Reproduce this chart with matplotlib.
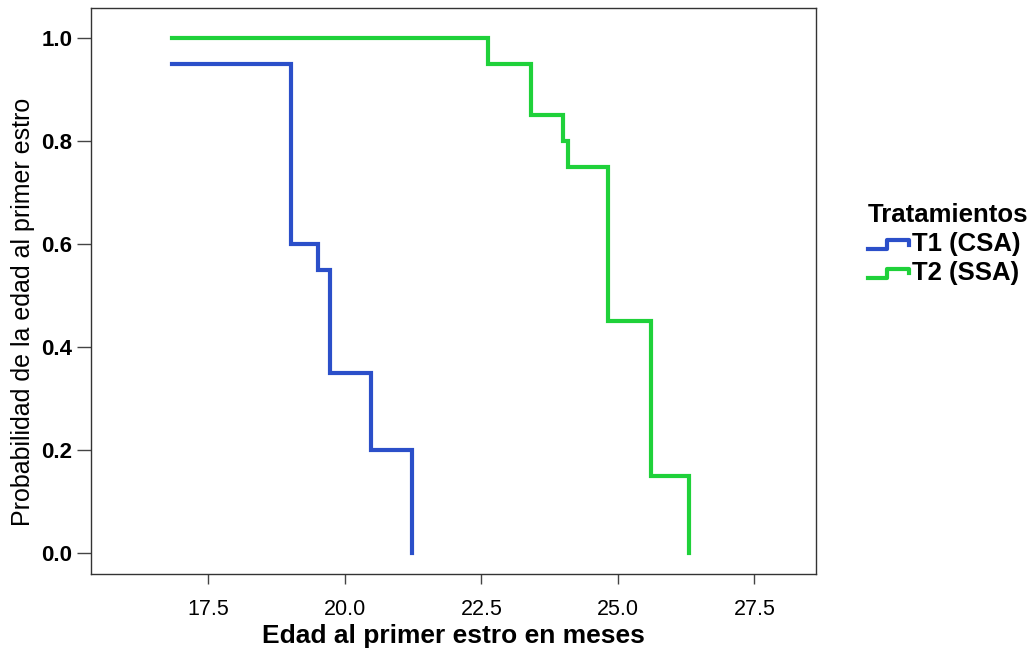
import matplotlib
matplotlib.use("Agg")
import matplotlib.pyplot as plt
from matplotlib.legend_handler import HandlerBase
from matplotlib.lines import Line2D

plt.rcParams['font.family'] = ['Liberation Sans', 'DejaVu Sans']

# Kaplan-Meier style step data
t1_edad = [16.83, 19.01, 19.51, 19.73, 20.47, 21.23]
t1_prob = [0.95, 0.60, 0.55, 0.35, 0.20, 0.00]
t2_edad = [16.83, 22.62, 23.40, 23.99, 24.08, 24.81, 25.60, 26.30]
t2_prob = [1.00, 0.95, 0.85, 0.80, 0.75, 0.45, 0.15, 0.00]
grupos = ['T1 (CSA)', 'T2 (SSA)']
colores = ['#2b4fc9', '#1fd13a']
xticks = [17.5, 20.0, 22.5, 25.0, 27.5]
yticks = [0.0, 0.2, 0.4, 0.6, 0.8, 1.0]


class StepHandler(HandlerBase):
    # legend key drawn as a small step, like the SPSS one
    def create_artists(self, legend, orig_handle, xdescent, ydescent,
                       width, height, fontsize, trans):
        x0 = -xdescent
        y0 = -ydescent
        xs = [x0, x0 + 0.45 * width, x0 + 0.45 * width, x0 + width, x0 + width]
        ys = [y0 + 0.1 * height, y0 + 0.1 * height, y0 + 0.6 * height,
              y0 + 0.6 * height, y0 + 0.35 * height]
        ln = Line2D(xs, ys, color=orig_handle.get_color(),
                    lw=orig_handle.get_linewidth(), transform=trans)
        return [ln]


fig = plt.figure(figsize=(10.36, 6.52), dpi=100)
ax = fig.add_axes([0.0878, 0.1196, 0.70, 0.868])

l1, = ax.plot(t1_edad, t1_prob, drawstyle='steps-post', color=colores[0],
              lw=3, solid_joinstyle='miter', label=grupos[0])
l2, = ax.plot(t2_edad, t2_prob, drawstyle='steps-post', color=colores[1],
              lw=3, solid_joinstyle='miter', label=grupos[1])

ax.set_xlim(15.35, 28.63)
ax.set_ylim(-0.041, 1.058)
ax.set_xticks(xticks)
ax.set_xticklabels([f'{v:.1f}' for v in xticks], fontsize=15.5)
ax.set_yticks(yticks)
ax.set_yticklabels([f'{v:.1f}' for v in yticks], fontsize=16, fontweight='bold')
ax.tick_params(axis='y', direction='out', length=10, width=1, color='#444444', pad=3.5)
ax.tick_params(axis='x', direction='out', length=7, width=1, color='#444444', pad=11)

for s in ax.spines.values():
    s.set_linewidth(1)
    s.set_color('#333333')

ax.set_xlabel('Edad al primer estro en meses', fontsize=19, fontweight='bold',
              labelpad=3)
ax.set_ylabel('Probabilidad de la edad al primer estro', fontsize=18)
ax.yaxis.set_label_coords(-0.077, 0.463)

leg = fig.legend(handles=[l1, l2], loc='upper left',
                 bbox_to_anchor=(0.838, 0.688), frameon=False,
                 borderpad=0, borderaxespad=0,
                 title='Tratamientos', fontsize=18.5, handlelength=1.6,
                 handletextpad=0.1, labelspacing=0.18,
                 handler_map={Line2D: StepHandler()})
leg.get_title().set_fontweight('bold')
leg.get_title().set_fontsize(18.5)
leg._legend_box.align = 'left'
for txt in leg.get_texts():
    txt.set_fontweight('bold')

fig.savefig('out.png', dpi=100)
